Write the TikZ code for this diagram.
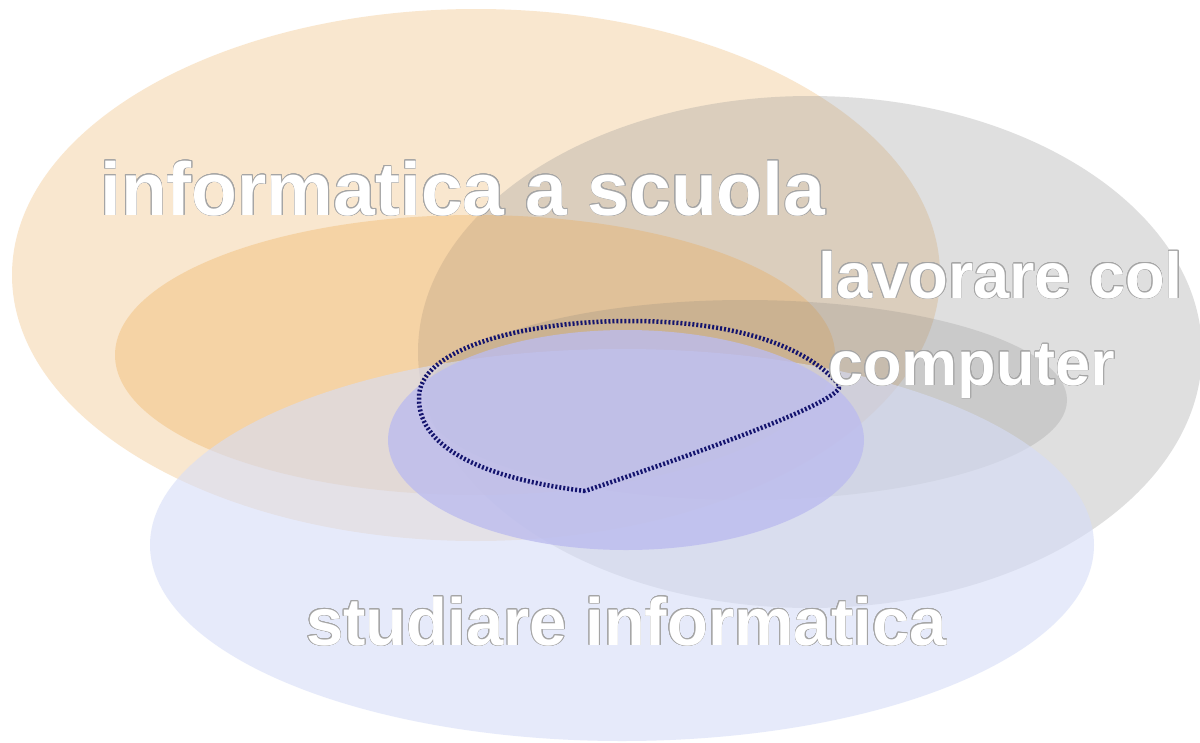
\documentclass[tikz,border=0pt]{standalone}
\usepackage{fontspec}
\setmainfont{Liberation Sans}
\usepackage{contour}
\contourlength{0.7pt}
\definecolor{scuolaorange}{RGB}{240,188,118}
\definecolor{computergray}{RGB}{150,150,150}
\definecolor{studioblue}{RGB}{214,221,248}
\definecolor{innerorange}{RGB}{238,165,70}
\definecolor{innergray}{RGB}{110,110,110}
\definecolor{innerblue}{RGB}{188,188,238}
\definecolor{curvenavy}{RGB}{20,20,110}
\definecolor{outlinegray}{RGB}{165,165,165}
\tikzset{
  setlabel/.style={text=white,inner sep=0pt,font=\bfseries},
}
\newcommand{\setname}[2]{\fontsize{#1}{#1}\selectfont\contour{outlinegray}{#2}}

\begin{document}
\begin{tikzpicture}[x=1pt,y=-1pt]
  \useasboundingbox (0,0) rectangle (1200,742);
  \fill[white] (0,0) rectangle (1200,742);

  % outer sets
  \fill[scuolaorange,opacity=0.35] (476,275) ellipse [x radius=464, y radius=266];
  \fill[computergray,opacity=0.3] (810,352) ellipse [x radius=392, y radius=256];
  \fill[innerorange,opacity=0.3] (475,355) ellipse [x radius=360, y radius=140];
  \fill[innergray,opacity=0.18] (745,400) ellipse [x radius=322, y radius=100];
  \fill[studioblue,opacity=0.6] (622,545) ellipse [x radius=472, y radius=196];

  % inner part of studiare informatica
  \fill[innerblue,opacity=0.8] (626,440) ellipse [x radius=238, y radius=110];

  % the common part
  \coordinate (left) at (419,398);
  \coordinate (top) at (630,321);
  \coordinate (tip) at (839,385);
  \coordinate (bottom) at (585,491);
  \draw[curvenavy,line width=4.5pt,dash pattern=on 2pt off 2pt]
    (bottom) .. controls (495,480) and (418,452) .. (left)
    .. controls (418,350) and (520,321) .. (top)
    .. controls (732,321) and (806,345) .. (tip)
    .. controls (848,400) and (700,452) .. (bottom);

  \node[setlabel,anchor=base west] (scuola) at (100,215)
    {\setname{75}{informatica a scuola}};
  \node[setlabel,anchor=base west] (lavorare) at (818,298)
    {\setname{65}{lavorare col}};
  \node[setlabel,anchor=base west] (computer) at (828,385)
    {\setname{63}{computer}};
  \node[setlabel,anchor=base west] (studiare) at (306,645)
    {\setname{67}{studiare informatica}};
\end{tikzpicture}
\end{document}
